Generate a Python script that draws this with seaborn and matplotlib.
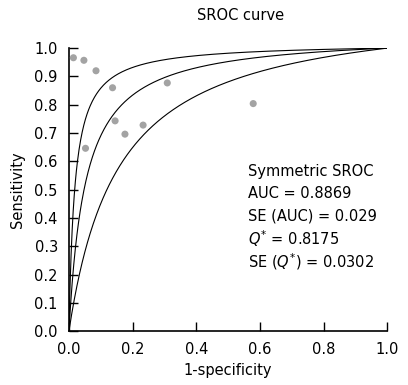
import matplotlib
matplotlib.use("Agg")
import matplotlib.pyplot as plt
import numpy as np
import pandas as pd
import seaborn as sns

# Study points (1-specificity, sensitivity)
study_fpr = [0.014, 0.047, 0.085, 0.137, 0.145, 0.176, 0.233, 0.052, 0.309, 0.579]
study_tpr = [0.966, 0.957, 0.920, 0.860, 0.743, 0.696, 0.728, 0.646, 0.877, 0.804]

# SROC curves: log diagnostic odds ratio D of upper bound, fit, lower bound
curve_names = ["upper", "sroc", "lower"]
curve_logdor = [4.0, 3.0, 2.0]

stats_lines = [
    "Symmetric SROC",
    "AUC = 0.8869",
    "SE (AUC) = 0.029",
    r"$Q^{*}$ = 0.8175",
    r"SE ($Q^{*}$) = 0.0302",
]

sns.set_style("ticks")
plt.rcParams["font.family"] = ["DejaVu Sans"]
plt.rcParams["mathtext.fontset"] = "dejavusans"
plt.rcParams["text.color"] = "black"
plt.rcParams["axes.labelcolor"] = "black"

fig = plt.figure(figsize=(4.08, 3.85), dpi=100)
ax = fig.add_axes([0.169, 0.140, 0.780, 0.735])

fpr_grid = np.linspace(0, 1, 600)
rows = []
for name, d in zip(curve_names, curve_logdor):
    odds = np.exp(d)
    tpr = odds * fpr_grid / ((1 - fpr_grid) + odds * fpr_grid)
    rows.append(pd.DataFrame({"fpr": fpr_grid, "tpr": tpr, "curve": name}))
curves = pd.concat(rows, ignore_index=True)

sns.lineplot(data=curves, x="fpr", y="tpr", units="curve", estimator=None,
             color="black", linewidth=0.8, sort=False, ax=ax)

pts = pd.DataFrame({"fpr": study_fpr, "tpr": study_tpr})
sns.scatterplot(data=pts, x="fpr", y="tpr", color="#a3a3a3", s=26,
                edgecolor="none", ax=ax, zorder=3)

ax.set_xlim(0, 1)
ax.set_ylim(0, 1)
ax.set_xticks(np.arange(0, 1.01, 0.2))
ax.set_yticks(np.arange(0, 1.01, 0.1))
ax.set_xticklabels([f"{v:.1f}" for v in np.arange(0, 1.01, 0.2)])
ax.set_yticklabels([f"{v:.1f}" for v in np.arange(0, 1.01, 0.1)])
ax.tick_params(direction="in", length=6.5, width=1, labelsize=10.5, pad=8,
               colors="black")
for side in ["top", "right"]:
    ax.spines[side].set_visible(False)
for side in ["left", "bottom"]:
    ax.spines[side].set_linewidth(1.2)
    ax.spines[side].set_color("black")

ax.set_xlabel("1-specificity", fontsize=10.5, labelpad=4)
ax.set_ylabel("Sensitivity", fontsize=10.5, labelpad=7)
fig.text(0.59, 0.96, "SROC curve", ha="center", va="center", fontsize=10.5)

for i, line in enumerate(stats_lines):
    ax.text(0.563, 0.565 - i * 0.08, line, fontsize=10.5, va="center",
            ha="left", transform=ax.transAxes)

fig.savefig("out.png", dpi=100)
